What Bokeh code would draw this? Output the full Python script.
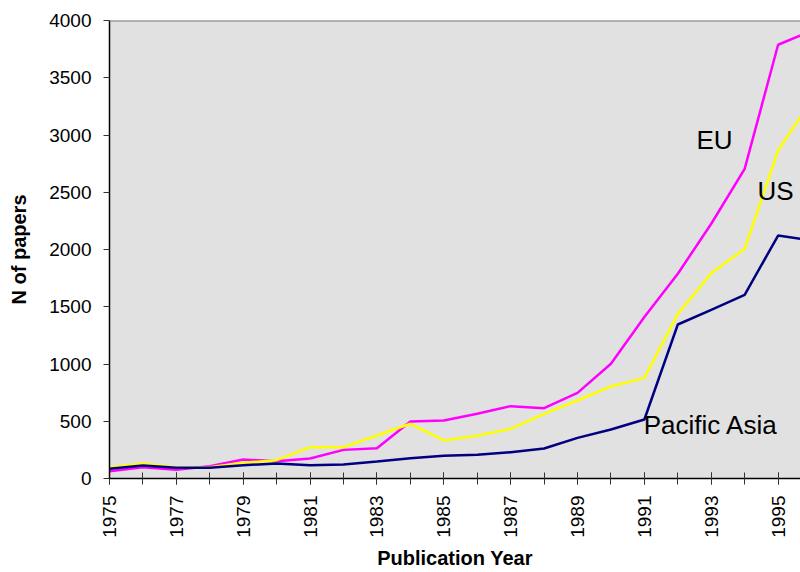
from bokeh.plotting import figure
from bokeh.models import FixedTicker, Span, Range1d, ColumnDataSource
from bokeh.core.properties import value
from bokeh.embed import file_html
from bokeh.resources import INLINE
import math

years = list(range(1975, 1997))
eu = [64, 99, 76, 107, 166, 151, 175, 250, 265, 498, 507, 565, 632, 614, 748, 1002, 1410, 1788, 2225, 2705, 3788, 3909]
us = [96, 131, 96, 99, 137, 160, 274, 274, 376, 478, 332, 373, 434, 565, 681, 804, 879, 1438, 1793, 2006, 2865, 3300]
pacific_asia = [85, 113, 93, 93, 116, 131, 116, 122, 148, 177, 198, 207, 230, 262, 355, 428, 515, 1345, 1473, 1604, 2122, 2078]

label_years = list(range(1975, 1997, 2))
y_ticks = list(range(0, 4001, 500))

series_names = ["EU", "US", "Pacific Asia"]
series_colors = ["#ff00ff", "#ffff00", "#000080"]
name_x = [1992.56, 1994.38, 1990.98]
name_y = [2952, 2515, 463]

FONT = "Liberation Sans"

p = figure(width=800, height=572, output_backend="svg", toolbar_location=None,
           x_range=Range1d(1975, 1995.67), y_range=Range1d(0, 4000),
           min_border_left=109, min_border_right=0, min_border_top=20, min_border_bottom=94)

p.background_fill_color = "#e1e1e1"
p.border_fill_color = "white"
p.outline_line_color = None
p.grid.visible = False

for data, color in zip([eu, us, pacific_asia], series_colors):
    p.line(years, data, line_color=color, line_width=2.5)

src = ColumnDataSource(dict(x=name_x, y=name_y, t=series_names))
p.text(x="x", y="y", text="t", source=src, text_font=value(FONT), text_font_size="26px",
       text_color="black", text_align="left", text_baseline="alphabetic")

p.add_layout(Span(location=4000, dimension="width", line_color="#7a7a7a", line_width=2))

xa = p.xaxis[0]
xa.ticker = FixedTicker(ticks=label_years, minor_ticks=years)
xa.major_label_orientation = math.pi / 2
xa.major_label_text_font = FONT
xa.major_label_text_font_size = "19px"
xa.major_label_text_color = "black"
xa.major_label_standoff = 11
xa.major_tick_in = 6
xa.major_tick_out = 6
xa.minor_tick_in = 6
xa.minor_tick_out = 6
xa.major_tick_line_color = "#333333"
xa.minor_tick_line_color = "#333333"
xa.axis_line_color = "black"
xa.axis_line_width = 1.5
xa.axis_label = "Publication Year"
xa.axis_label_text_font = FONT
xa.axis_label_text_font_style = "bold"
xa.axis_label_text_font_size = "20px"
xa.axis_label_text_color = "black"
xa.axis_label_standoff = 6

ya = p.yaxis[0]
ya.ticker = FixedTicker(ticks=y_ticks)
ya.major_label_text_font = FONT
ya.major_label_text_font_size = "19px"
ya.major_label_text_color = "black"
ya.major_label_standoff = 12
ya.major_tick_in = 0
ya.major_tick_out = 6
ya.minor_tick_in = 0
ya.minor_tick_out = 0
ya.major_tick_line_color = "#333333"
ya.axis_line_color = "black"
ya.axis_line_width = 1.5
ya.axis_label = "N of papers"
ya.axis_label_text_font = FONT
ya.axis_label_text_font_style = "bold"
ya.axis_label_text_font_size = "20px"
ya.axis_label_text_color = "black"
ya.axis_label_standoff = 16

open("out.html", "w").write(file_html(p, INLINE))
